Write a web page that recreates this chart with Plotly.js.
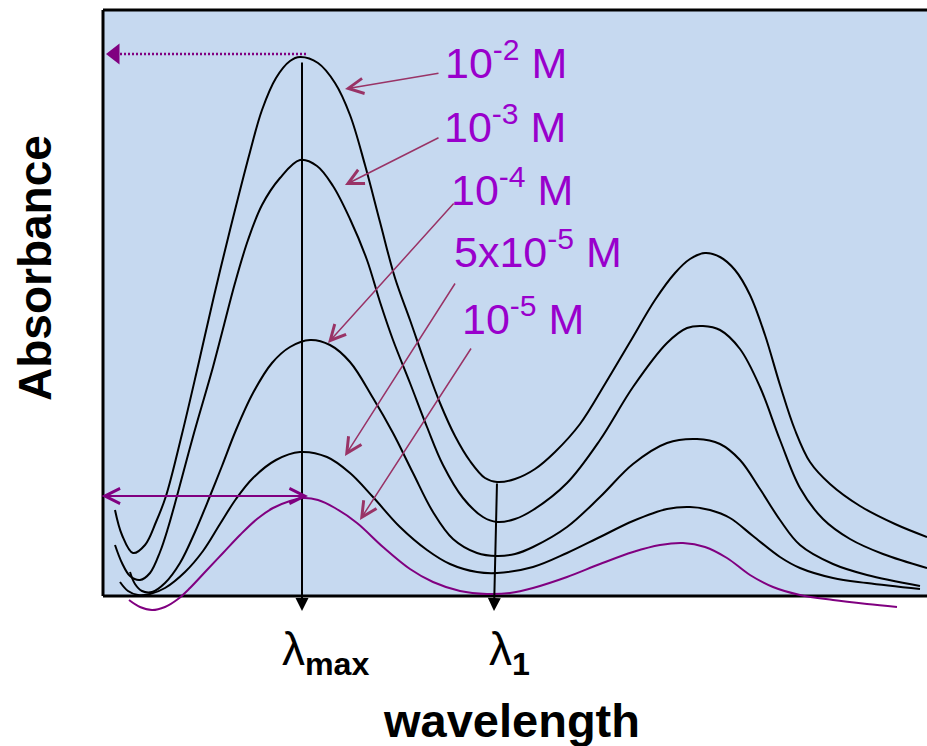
<!DOCTYPE html>
<html><head><meta charset="utf-8">
<script src="https://cdn.plot.ly/plotly-3.0.1.min.js"></script>
<style>html,body{margin:0;padding:0;background:#fff;overflow:hidden;} #chart{width:927px;height:746px;}</style>
</head><body><div id="chart"></div>
<script>
// wavelength (a.u.) and absorbance (a.u.)
const wl_1e2 = [12,19,30,42,53,63,79,95,111,127,147,159,173,187,197,215,232,247,262,277,292,307,322,337,352,367,382,394,412,432,452,477,502,527,552,572,587,602,617,632,647,662,677,692,707,727,757,792,824];
const abs_1e2 = [86,61,43,51,74,100,162,230,300,366,444,486,518,535,539,533,513,481,431,374,318,276,233,193,160,135,118,114,117,127,144,172,212,254,296,323,337,343,339,326,301,261,211,166,134,112,90,72,59];

const wl_1e3 = [12,19,27,37,47,57,65,74,91,110,121,132,145,159,177,197,214,230,247,264,277,290,307,324,340,360,380,394,412,430,464,497,530,564,584,600,617,637,657,677,697,720,747,780,824];
const abs_1e3 = [51,33,20,16,23,44,68,100,163,229,271,313,356,391,418,436,430,410,377,336,294,256,213,169,131,98,79,74,77,86,113,156,209,253,268,270,266,247,209,156,108,77,57,42,28];

const wl_1e4 = [27,32,39,49,62,77,92,107,119,133,150,169,187,207,227,247,270,290,310,330,350,374,394,412,430,464,497,530,564,594,617,637,657,677,697,730,764,817];
const abs_1e4 = [24,12,5,4,13,33,64,100,130,166,203,233,249,256,251,234,198,163,123,84,57,43,40,42,49,69,99,132,153,157,152,136,107,76,51,32,21,10];

const wl_5e5 = [17,25,35,47,62,82,100,117,133,150,173,197,224,247,270,297,324,347,374,394,430,464,497,530,564,587,607,627,650,677,697,730,764,817];
const abs_5e5 = [14,5,1,2,8,24,45,72,97,118,136,144,139,123,99,69,46,32,24,23,29,43,59,75,87,89,86,78,60,39,28,18,13,7];

const wl_1e5 = [26,37,49,62,75,87,103,120,137,154,170,187,200,215,232,254,280,307,330,357,384,407,430,464,497,530,557,580,602,624,647,670,697,730,764,794];
const abs_1e5 = [-4,-11,-14,-11,-3,8,25,43,61,77,88,95,98,96,88,73,49,27,14,5,2,3,8,19,32,44,51,53,49,38,21,9,1,-4,-8,-11];

const concLabels = ['10<sup>-2</sup> M','10<sup>-3</sup> M','10<sup>-4</sup> M','5x10<sup>-5</sup> M','10<sup>-5</sup> M'];
const xTitle = 'wavelength';
const yTitle = 'Absorbance';
const lamMaxLabel = '\u03bb<sub><b>max</b></sub>';
const lam1Label = '\u03bb<sub><b>1</b></sub>';

const XR = [-3, 824], YR = [-20, 589];
const px = x => (x - XR[0]) / (XR[1] - XR[0]);
const py = y => (y - YR[0]) / (YR[1] - YR[0]);

// derived positions
function argmax(a){let k=0;for(let i=1;i<a.length;i++) if(a[i]>a[k]) k=i;return k;}
const iMax = argmax(abs_1e2);
const lamMax = wl_1e2[iMax], peakTop = abs_1e2[iMax];
let iMin = -1;
for (let i=0;i<wl_1e2.length;i++){ if (wl_1e2[i]>lamMax && wl_1e2[i]<550 && (iMin<0 || abs_1e2[i]<abs_1e2[iMin])) iMin=i; }
const lam1 = wl_1e2[iMin], lam1Abs = abs_1e2[iMin];
const iP = argmax(abs_1e5);
const purplePeakX = wl_1e5[iP], purplePeakY = abs_1e5[iP];

const FONT = 'Arial, "Liberation Sans", sans-serif';
const blackLine = {color:'#000', width:2, shape:'spline', smoothing:1};

const traces = [
  {x: wl_1e2, y: abs_1e2, mode:'lines', line: blackLine, hoverinfo:'skip'},
  {x: wl_1e3, y: abs_1e3, mode:'lines', line: blackLine, hoverinfo:'skip'},
  {x: wl_1e4, y: abs_1e4, mode:'lines', line: blackLine, hoverinfo:'skip'},
  {x: wl_5e5, y: abs_5e5, mode:'lines', line: blackLine, hoverinfo:'skip'},
  {x: wl_1e5, y: abs_1e5, mode:'lines', line: {color:'#800080', width:2, shape:'spline', smoothing:1}, hoverinfo:'skip'},
  // dotted line from the top peak to the absorbance axis
  {x: [lamMax+6, 12], y: [peakTop+3, peakTop+3], mode:'lines', line:{color:'#800080', width:2.5, dash:'2px,2px'}, hoverinfo:'skip'},
  {x: [12], y: [peakTop+3], mode:'markers', marker:{symbol:'triangle-left', size:18, color:'#800080'}, hoverinfo:'skip'}
];

// concentration label positions (layout)
const labelPos = [[340,507],[339,443],[346,380],[349,318],[357,251]];
const arrowHead = [[242,507],[242,411],[225,253],[242,140],[257,76]];
const arrowTail = [[337,523],[337,459],[352,394],[353,314],[369,249]];

const annotations = [];
concLabels.forEach((t,i)=>{
  annotations.push({x:labelPos[i][0], y:labelPos[i][1], xref:'x', yref:'y', text:t, showarrow:false,
    xanchor:'left', yanchor:'bottom', font:{family:FONT, size:43, color:'#9900CC'}});
  annotations.push({x:arrowHead[i][0], y:arrowHead[i][1], ax:arrowTail[i][0], ay:arrowTail[i][1],
    xref:'x', yref:'y', axref:'x', ayref:'y', text:'', showarrow:true,
    arrowhead:5, arrowsize:2, arrowwidth:1.5, arrowcolor:'#993366'});
});
// lambda max vertical arrow
annotations.push({x:lamMax+2, y:-15, ax:lamMax+2, ay:peakTop-4, xref:'x', yref:'y', axref:'x', ayref:'y',
  text:'', showarrow:true, arrowhead:2, arrowsize:1.3, arrowwidth:2, arrowcolor:'#000'});
// lambda 1 vertical arrow
annotations.push({x:lam1-3, y:-15, ax:lam1, ay:lam1Abs, xref:'x', yref:'y', axref:'x', ayref:'y',
  text:'', showarrow:true, arrowhead:2, arrowsize:1.3, arrowwidth:2, arrowcolor:'#000'});
// purple double arrow at the lowest peak
annotations.push({x:purplePeakX+5, y:purplePeakY+2, ax:-3, ay:purplePeakY+2, xref:'x', yref:'y', axref:'x', ayref:'y',
  text:'', showarrow:true, arrowside:'end+start', arrowhead:5, startarrowhead:5, arrowsize:1.5, startarrowsize:1.5,
  arrowwidth:2, arrowcolor:'#800080'});
// lambda labels (below the axis: paper coordinates)
annotations.push({x:px(lamMax-20), y:py(-56), xref:'paper', yref:'paper', text:lamMaxLabel, showarrow:false, xanchor:'left', yanchor:'middle',
  font:{family:FONT, size:46, color:'#000'}});
annotations.push({x:px(lam1-10), y:py(-56), xref:'paper', yref:'paper', text:lam1Label, showarrow:false, xanchor:'left', yanchor:'middle',
  font:{family:FONT, size:46, color:'#000'}});
// axis titles
annotations.push({x:px(408), y:py(-124), xref:'paper', yref:'paper', text:'<b>'+xTitle+'</b>', showarrow:false, xanchor:'center', yanchor:'middle',
  font:{family:FONT, size:47, color:'#000'}});
annotations.push({x:px(-68), y:py(328), xref:'paper', yref:'paper', text:'<b>'+yTitle+'</b>', showarrow:false, textangle:-90, xanchor:'center', yanchor:'middle',
  font:{family:FONT, size:46, color:'#000'}});

const layout = {
  width:927, height:746,
  margin:{l:100, r:0, t:7, b:130, pad:0},
  paper_bgcolor:'#fff', plot_bgcolor:'rgba(0,0,0,0)',
  showlegend:false,
  xaxis:{range:XR, showgrid:false, zeroline:false, showticklabels:false, showline:false, ticks:'', fixedrange:true},
  yaxis:{range:YR, showgrid:false, zeroline:false, showticklabels:false, showline:false, ticks:'', fixedrange:true},
  shapes:[
    {type:'rect', xref:'x', yref:'y', x0:0, x1:830, y0:0, y1:586, fillcolor:'#C6D9F0', line:{width:0}, layer:'below'},
    {type:'line', xref:'x', yref:'y', x0:0, x1:0, y0:0, y1:586, line:{color:'#000', width:3}, layer:'above'},
    {type:'line', xref:'x', yref:'y', x0:0, x1:830, y0:586, y1:586, line:{color:'#000', width:3}, layer:'above'},
    {type:'line', xref:'x', yref:'y', x0:0, x1:830, y0:0, y1:0, line:{color:'#000', width:3}, layer:'below'}
  ],
  annotations: annotations
};
Plotly.newPlot('chart', traces, layout, {displayModeBar:false, staticPlot:true});
</script>
</body></html>
